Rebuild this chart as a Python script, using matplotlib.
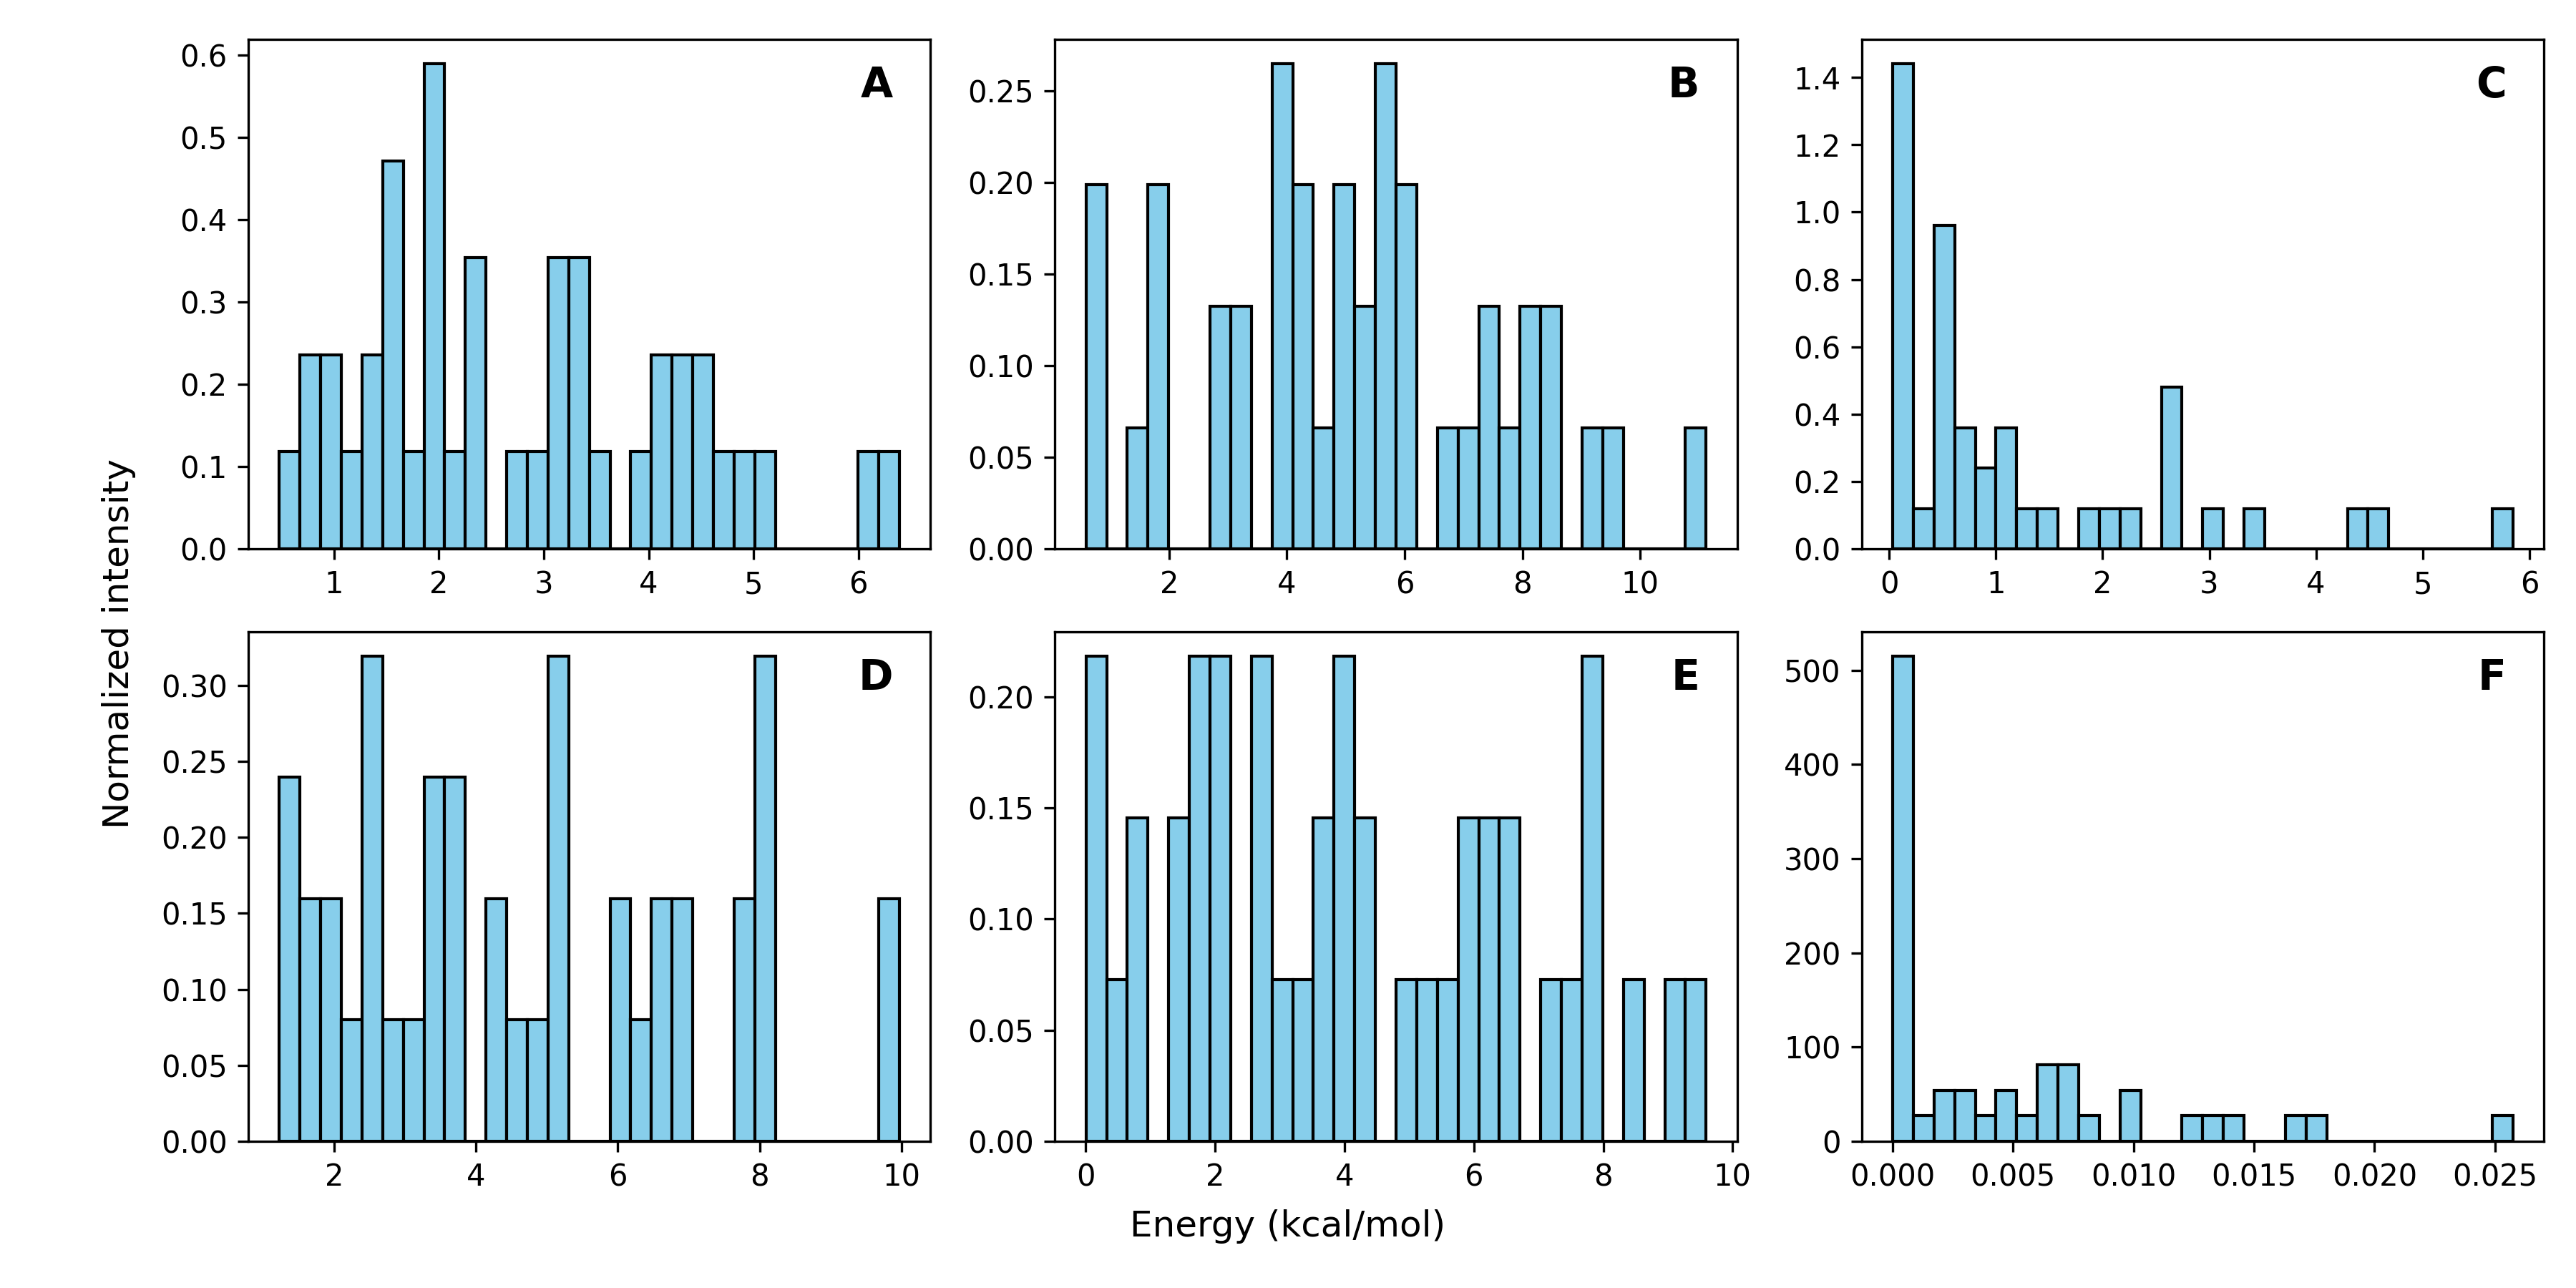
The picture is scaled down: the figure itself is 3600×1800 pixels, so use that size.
import numpy as np
import matplotlib
matplotlib.use('Agg')
import matplotlib.pyplot as plt

# panel labels
labels = ['A', 'B', 'C', 'D', 'E', 'F']

# data range (min, max) of each panel, 30 bins each
ranges = [
	(0.478, 6.391),
	(0.590, 11.12),
	(0.033, 5.844),
	(1.228, 9.972),
	(0.005, 9.590),
	(0.000, 0.02574),
]

# counts per bin
counts_A = [1, 2, 2, 1, 2, 4, 1, 5, 1, 3, 0, 1, 1, 3, 3, 1, 0, 1, 2, 2, 2, 1, 1, 1, 0, 0, 0, 0, 1, 1]
counts_B = [3, 0, 1, 3, 0, 0, 2, 2, 0, 4, 3, 1, 3, 2, 4, 3, 0, 1, 1, 2, 1, 2, 2, 0, 1, 1, 0, 0, 0, 1]
counts_C = [12, 1, 8, 3, 2, 3, 1, 1, 0, 1, 1, 1, 0, 4, 0, 1, 0, 1, 0, 0, 0, 0, 1, 1, 0, 0, 0, 0, 0, 1]
counts_D = [3, 2, 2, 1, 4, 1, 1, 3, 3, 0, 2, 1, 1, 4, 0, 0, 2, 1, 2, 2, 0, 0, 2, 4, 0, 0, 0, 0, 0, 2]
counts_E = [3, 1, 2, 0, 2, 3, 3, 0, 3, 1, 1, 2, 3, 2, 0, 1, 1, 1, 2, 2, 2, 0, 1, 1, 3, 0, 1, 0, 1, 1]
counts_F = [19, 1, 2, 2, 1, 2, 1, 3, 3, 1, 0, 2, 0, 0, 1, 1, 1, 0, 0, 1, 1, 0, 0, 0, 0, 0, 0, 0, 0, 1]

all_counts = [counts_A, counts_B, counts_C, counts_D, counts_E, counts_F]

fig, axes = plt.subplots(2, 3, figsize=(12, 6))
plt.subplots_adjust(left=0.0964, right=0.9875, top=0.9694, bottom=0.1139,
					wspace=0.1825, hspace=0.163)

for ax, lab, (lo, hi), counts in zip(axes.flat, labels, ranges, all_counts):
	edges = np.linspace(lo, hi, 31)
	centers = (edges[:-1] + edges[1:]) / 2
	ax.hist(centers, bins=edges, weights=counts, density=True,
			color='skyblue', edgecolor='black', linewidth=1.0)
	ax.text(0.945, 0.95, lab, transform=ax.transAxes, ha='right', va='top',
			fontsize=14, fontweight='bold')

fig.text(0.5, 0.048, 'Energy (kcal/mol)', ha='center', va='center', fontsize=12)
fig.text(0.046, 0.5, 'Normalized intensity', ha='center', va='center',
		 rotation=90, fontsize=12)

plt.savefig('out.png', dpi=300)
